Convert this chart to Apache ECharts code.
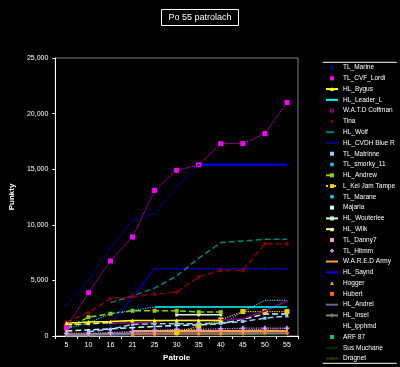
<!DOCTYPE html>
<html><head><meta charset="utf-8">
<script src="https://cdn.jsdelivr.net/npm/echarts@6/dist/echarts.min.js"></script>
<style>html,body{margin:0;padding:0;background:#000}#c{width:400px;height:367px}</style>
</head><body><div id="c"></div>
<script>
const N = null;
const categories = ['5','10','16','21','25','30','35','40','45','50','55'];
const yTicks = [0, 5000, 10000, 15000, 20000, 25000];
const names = ['TL_Marine','TL_CVF_Lordi','HL_Bygus','HL_Leader_L','W.A.T.D Coffman','Tina','HL_Wolf','HL_CVDH Blue R','TL_Matrinne','TL_smorky_11','HL_Andrew','L_Kel Jam Tampe','TL_Marane','Majaria','HL_Wouterlee','HL_Wilk','TL_Danny7','TL_Hitmm','W.A.R.E.D Army','HL_Saynd','Hogger','Hubert','HL_Andrei','HL_Insel','HL_ipphmd','ARF 87','Sus Muchane','Dragnet'];
const v01 = [2800, 5000, 7850, 10400, 11000, 13400, 15400, N, N, N, N];
const v02 = [750, 3900, 6750, 8900, 13100, 14900, 15400, 17300, 17300, 18200, 21000];
const v03 = [1150, 1250, 1300, 1400, 1400, 1400, 1400, 1400, N, N, N];
const v04 = [N, N, N, N, 2600, 2600, 2600, 2600, 2600, 2600, 2600];
const v05 = [N, N, 1200, 1200, 1250, 1450, 1450, 1450, 1550, 2250, 3150];
const v06 = [1250, 2100, 3350, 3550, 3750, 3950, 5300, 5900, 5900, 8300, 8300];
const v07 = [N, N, 3000, 3600, 4300, 5400, 7000, 8400, 8550, 8700, 8700];
const v08 = [N, N, 1000, 3500, 6050, 6050, 6050, 6050, 6050, 6050, 6050];
const v09 = [N, 400, 600, 1050, 1100, 1100, 1100, 1150, 1300, 1600, 1800];
const v10 = [650, 1200, 2000, 2300, 2600, N, N, N, N, N, N];
const v11 = [650, 1700, 2000, 2270, 2270, 2270, 2150, 2150, N, N, N];
const v12 = [N, N, N, N, N, 300, 900, 1450, 2200, 2200, 2200];
const v13 = [N, N, N, N, N, N, N, 1000, 2200, 3200, 3200];
const v14 = [450, 550, 650, 750, 850, 950, 1000, 1100, 1500, 1980, 1980];
const v15 = [N, N, N, N, N, 1900, 1900, 1900, N, N, N];
const v16 = [1000, 1100, 1200, 1250, N, N, N, N, N, N, N];
const v17 = [200, 200, 250, 300, 350, 400, 450, 500, 550, 600, 650];
const v18 = [250, 250, 300, 400, 500, 600, 600, 650, 700, 700, 700];
const v19 = [N, N, N, 450, 450, 450, 450, 450, 450, 450, 450];
const v20 = [N, N, N, N, N, N, 15400, 15400, 15400, 15400, 15400];
const v21 = [N, N, N, 150, 250, 300, 300, 300, 350, 400, 450];
const v22 = [N, N, N, 100, 100, 150, 150, 150, 200, 200, 200];
const v23 = [N, N, 100, 150, 200, 250, 250, 250, 300, 300, 300];
const v24 = [100, 100, 150, 200, 200, 200, 200, 200, 200, 250, 250];
const v25 = [0, 0, 0, 0, 0, 0, 0, 0, 0, 0, 0];
const v26 = [N, N, N, N, N, N, N, 100, 150, 200, 250];
const v27 = [N, N, N, N, N, N, N, 100, 100, 100, 100];
const v28 = [N, N, N, N, N, N, N, 150, 150, 150, 150];
const values = [v01,v02,v03,v04,v05,v06,v07,v08,v09,v10,v11,v12,v13,v14,v15,v16,v17,v18,v19,v20,v21,v22,v23,v24,v25,v26,v27,v28];

// styles: [lineColor, markerColor, lineType, lineWidth, symbol, symbolSize, legendLine, legendMarker]
const plus = 'path://M2,0h2v2h2v2h-2v2h-2v-2h-2v-2h2z';
const styles = [
 ['#0000ff','#000080','dotted',1,'rect',2,false,true],
 ['#ff00ff','#ff00ff','dotted',1,'rect',5,false,true],
 ['#ffff00','#ffff00','solid',1.5,'triangle',4,true,true],
 ['#00ffff','#00ffff','solid',1.5,'none',3,true,false],
 ['#800080','#800080','solid',1.5,'rect',2,false,true],
 ['#800000','#800000','dashed',1.5,'diamond',5,false,true],
 ['#008080','#008080','dashed',1.5,'none',3,true,false],
 ['#000099','#000099','solid',1.5,'circle',3,true,false],
 ['#99ccff','#99ccff','dashed',1.5,'rect',3,false,true],
 ['#00ccff','#00ccff','dotted',1.2,'none',3,false,true],
 ['#99cc00','#99cc00','dashed',1.5,'rect',4,true,true],
 ['#ffcc00','#ffcc00','dotted',1.2,'rect',5,true,true],
 ['#00ccff','#00ccff','dotted',1.2,'none',3,false,true],
 ['#ccffff','#ccffff','dashed',1.5,'rect',2,false,true],
 ['#ccffcc','#ccffcc','solid',1.5,'rect',3,true,true],
 ['#ffff99','#ffff99','dashed',1.5,'triangle',3,true,true],
 ['#ff99cc','#ff99cc','dotted',1,'rect',2,false,true],
 ['#cc99ff','#cc99ff','dotted',1.2,plus,5,false,true],
 ['#ffa040','#ffa040','solid',2,'none',3,true,false],
 ['#0000ff','#0000ff','solid',2,'none',3,true,false],
 ['#ff9900','#ff9900','dotted',1,'triangle',4,false,true],
 ['#ff6600','#ff6600','dotted',1,'rect',2,false,true],
 ['#666699','#666699','solid',1.5,'none',3,true,false],
 ['#808080','#808080','solid',2,plus,4,true,true],
 ['#000000','#000000','solid',1,'none',3,false,false],
 ['#00cc66','#00cc66','dotted',1,'rect',2,false,true],
 ['#003300','#003300','solid',1.5,'none',3,true,false],
 ['#333300','#333300','solid',1.5,plus,3,true,true]
];

const font = 'Liberation Sans, Arial, sans-serif';
const series = names.map((n, i) => {
  const s = styles[i];
  return {
    name: n, type: 'line', data: values[i], connectNulls: false,
    symbol: s[4] === 'none' ? 'none' : s[4], symbolSize: s[5], showSymbol: s[4] !== 'none',
    lineStyle: { color: s[0], type: s[2], width: s[3] },
    itemStyle: { color: s[1] },
    emphasis: { disabled: true }, animation: false, z: 2 + (28 - i) / 100
  };
});
const legendData = names.map((n, i) => {
  const s = styles[i];
  const d = { name: n };
  if (!s[6]) d.lineStyle = { opacity: 0 };
  if (!s[7]) d.itemStyle = { opacity: 0 };
  return d;
});

const chart = echarts.init(document.getElementById('c'), null, { renderer: 'canvas' });
chart.setOption({
  backgroundColor: '#000',
  animation: false,
  title: {
    text: 'Po 55 patrolach', left: 'center', top: 9, padding: [4, 7],
    borderColor: '#fff', borderWidth: 1,
    textStyle: { color: '#fff', fontSize: 9, fontWeight: 'normal', fontFamily: font }
  },
  legend: {
    orient: 'vertical', left: 325, top: 63.5, padding: 0,
    itemWidth: 12, itemHeight: 5, itemGap: 2.78,
    textStyle: { color: '#fff', fontSize: 6.5, lineHeight: 8, fontFamily: font },
    data: legendData, selectedMode: false
  },
  grid: { left: 36.7, right: 102, top: 58, bottom: 26.3, show: true, borderColor: '#808080', borderWidth: 1 },
  xAxis: {
    type: 'category', data: categories, boundaryGap: true,
    name: 'Patrole', nameLocation: 'middle', nameGap: 18,
    nameTextStyle: { color: '#fff', fontSize: 8, fontWeight: 'bold', fontFamily: font },
    axisLine: { lineStyle: { color: '#fff', width: 1 } },
    axisTick: { show: true, length: 3, lineStyle: { color: '#fff' } },
    axisLabel: { color: '#fff', fontSize: 7, margin: 6, fontFamily: font },
    splitLine: { show: false }
  },
  yAxis: {
    type: 'value', min: yTicks[0], max: yTicks[yTicks.length - 1], interval: 5000,
    name: 'Punkty', nameLocation: 'middle', nameGap: 27,
    nameTextStyle: { color: '#fff', fontSize: 8, fontWeight: 'bold', fontFamily: font },
    axisLine: { show: true, lineStyle: { color: '#fff', width: 1 } },
    axisTick: { show: true, length: 3, lineStyle: { color: '#fff' } },
    axisLabel: { color: '#fff', fontSize: 7, margin: 7, fontFamily: font,
      formatter: v => v.toLocaleString('en-US') },
    splitLine: { show: false }
  },
  graphic: [
    { type: 'line', shape: { x1: 322.7, y1: 62.3, x2: 396.7, y2: 62.3 }, style: { stroke: '#fff', lineWidth: 1 } },
    { type: 'line', shape: { x1: 322.7, y1: 363.3, x2: 396.7, y2: 363.3 }, style: { stroke: '#fff', lineWidth: 1 } }
  ],
  series: series
});
</script>
</body></html>
